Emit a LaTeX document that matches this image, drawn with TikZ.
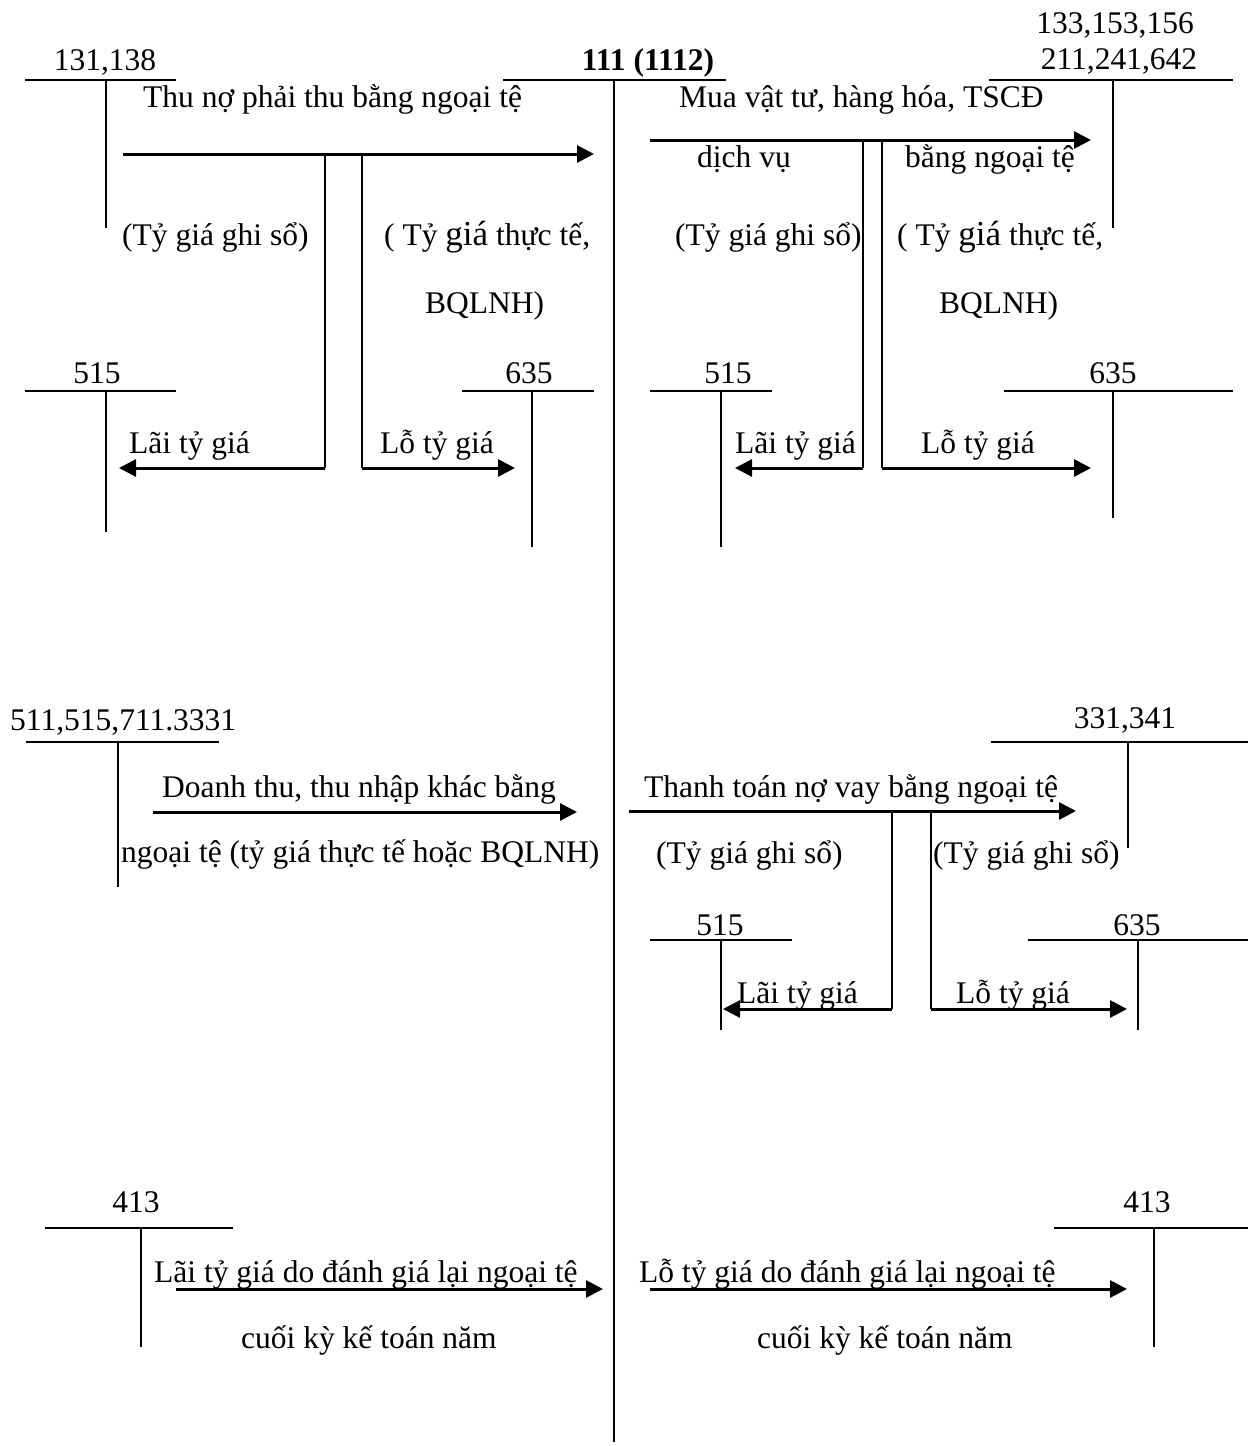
\documentclass[tikz,border=0pt]{standalone}
\usepackage{fontspec}
\setmainfont{Liberation Serif}
\usetikzlibrary{arrows.meta}
\newcommand{\bigGia}{{\fontsize{35}{40}\selectfont giá}}
\begin{document}
\begin{tikzpicture}[x=1pt,y=-1pt,
  txt/.style={font=\fontsize{31.5}{36}\selectfont, inner sep=0pt, anchor=base west},
  acc/.style={font=\fontsize{31.5}{36}\selectfont, inner sep=0pt, anchor=base},
  accb/.style={font=\fontsize{31.5}{36}\selectfont\bfseries, inner sep=0pt, anchor=base},
  tline/.style={line width=2pt},
  flow/.style={line width=3pt, -{Triangle[length=17pt,width=17pt]}}
]
\useasboundingbox (0,0) rectangle (1254,1446);

% ---------- main account 111 ----------
\node[accb] (a111) at (648,70) {111 (1112)};
\draw[tline] (503,80) -- (726,80);
\draw[line width=2.4pt] (614,80) -- (614,1442);

% ---------- top left ----------
\node[acc] (a131) at (105,70) {131,138};
\draw[tline] (25,80) -- (176,80);
\draw[tline] (106,80) -- (106,228);
\node[txt] (t1) at (143,107) {Thu nợ phải thu bằng ngoại tệ};
\coordinate (s1) at (123,154); \coordinate (e1) at (594,154);
\draw[flow] (s1) -- (e1);
\node[txt] (t2) at (122,245) {(Tỷ giá ghi sổ)};
\node[txt] (t3) at (384,245) {( Tỷ \bigGia\ thực tế,};
\node[txt] (t4) at (425,313) {BQLNH)};
\coordinate (b1) at (325,154); \coordinate (c1) at (325,468); \coordinate (p1) at (119,468);
\draw[tline] (b1) -- (c1); \draw[flow] (c1) -- (p1);
\coordinate (b2) at (362,154); \coordinate (c2) at (362,468); \coordinate (p2) at (515,468);
\draw[tline] (b2) -- (c2); \draw[flow] (c2) -- (p2);
\node[acc] (a515a) at (97,383) {515};
\draw[tline] (25,391) -- (176,391);
\draw[tline] (106,391) -- (106,532);
\node[txt] (t5) at (129,453) {Lãi tỷ giá};
\node[acc] (a635a) at (529,383) {635};
\draw[tline] (462,391) -- (594,391);
\draw[tline] (532,391) -- (532,547);
\node[txt] (t6) at (380,453) {Lỗ tỷ giá};

% ---------- top right ----------
\node[acc] (a133) at (1115,33) {133,153,156};
\node[acc] (a211) at (1119,69) {211,241,642};
\draw[tline] (989,80) -- (1233,80);
\draw[tline] (1113,80) -- (1113,228);
\node[txt] (t7) at (679,107) {Mua vật tư, hàng hóa, TSCĐ};
\coordinate (s2) at (650,140); \coordinate (e2) at (1091,140);
\draw[flow] (s2) -- (e2);
\node[txt] (t8) at (697,167) {dịch vụ};
\node[txt] (t9) at (905,167) {bằng ngoại tệ};
\node[txt] (t10) at (675,245) {(Tỷ giá ghi sổ)};
\node[txt] (t11) at (897,245) {( Tỷ \bigGia\ thực tế,};
\node[txt] (t12) at (939,313) {BQLNH)};
\coordinate (b3) at (863,140); \coordinate (c3) at (863,468); \coordinate (p3) at (735,468);
\draw[tline] (b3) -- (c3); \draw[flow] (c3) -- (p3);
\coordinate (b4) at (882,140); \coordinate (c4) at (882,468); \coordinate (p4) at (1091,468);
\draw[tline] (b4) -- (c4); \draw[flow] (c4) -- (p4);
\node[acc] (a515b) at (728,383) {515};
\draw[tline] (650,391) -- (772,391);
\draw[tline] (721,391) -- (721,547);
\node[txt] (t13) at (735,453) {Lãi tỷ giá};
\node[acc] (a635b) at (1113,383) {635};
\draw[tline] (1004,391) -- (1233,391);
\draw[tline] (1113,391) -- (1113,518);
\node[txt] (t14) at (921,453) {Lỗ tỷ giá};

% ---------- middle left ----------
\node[txt] (a511) at (10,730) {511,515,711.3331};
\draw[tline] (26,742) -- (219,742);
\draw[tline] (118,742) -- (118,887);
\node[txt] (t15) at (162,797) {Doanh thu, thu nhập khác bằng};
\coordinate (s3) at (153,812); \coordinate (e3) at (577,812);
\draw[flow] (s3) -- (e3);
\node[txt] (t16) at (121,862) {ngoại tệ (tỷ giá thực tế hoặc BQLNH)};

% ---------- middle right ----------
\node[acc] (a331) at (1125,728) {331,341};
\draw[tline] (991,742) -- (1248,742);
\draw[tline] (1128,742) -- (1128,848);
\node[txt] (t17) at (644,797) {Thanh toán nợ vay bằng ngoại tệ};
\coordinate (s4) at (629,811); \coordinate (e4) at (1076,811);
\draw[flow] (s4) -- (e4);
\node[txt] (t18) at (656,863) {(Tỷ giá ghi sổ)};
\node[txt] (t19) at (933,863) {(Tỷ giá ghi sổ)};
\coordinate (b5) at (892,811); \coordinate (c5) at (892,1009); \coordinate (p5) at (723,1009);
\draw[tline] (b5) -- (c5); \draw[flow] (c5) -- (p5);
\coordinate (b6) at (931,811); \coordinate (c6) at (931,1009); \coordinate (p6) at (1127,1009);
\draw[tline] (b6) -- (c6); \draw[flow] (c6) -- (p6);
\node[acc] (a515c) at (720,935) {515};
\draw[tline] (650,940) -- (792,940);
\draw[tline] (721,940) -- (721,1030);
\node[txt] (t20) at (737,1003) {Lãi tỷ giá};
\node[acc] (a635c) at (1137,935) {635};
\draw[tline] (1028,940) -- (1248,940);
\draw[tline] (1138,940) -- (1138,1030);
\node[txt] (t21) at (956,1003) {Lỗ tỷ giá};

% ---------- bottom left ----------
\node[acc] (a413a) at (136,1212) {413};
\draw[tline] (45,1228) -- (233,1228);
\draw[tline] (141,1228) -- (141,1347);
\node[txt] (t22) at (154,1282) {Lãi tỷ giá do đánh giá lại ngoại tệ};
\coordinate (s5) at (176,1289); \coordinate (e5) at (603,1289);
\draw[flow] (s5) -- (e5);
\node[txt] (t23) at (241,1348) {cuối kỳ kế toán năm};

% ---------- bottom right ----------
\node[acc] (a413b) at (1147,1212) {413};
\draw[tline] (1054,1228) -- (1248,1228);
\draw[tline] (1154,1228) -- (1154,1347);
\node[txt] (t24) at (639,1282) {Lỗ tỷ giá do đánh giá lại ngoại tệ};
\coordinate (s6) at (650,1289); \coordinate (e6) at (1127,1289);
\draw[flow] (s6) -- (e6);
\node[txt] (t25) at (757,1348) {cuối kỳ kế toán năm};
\end{tikzpicture}
\end{document}
